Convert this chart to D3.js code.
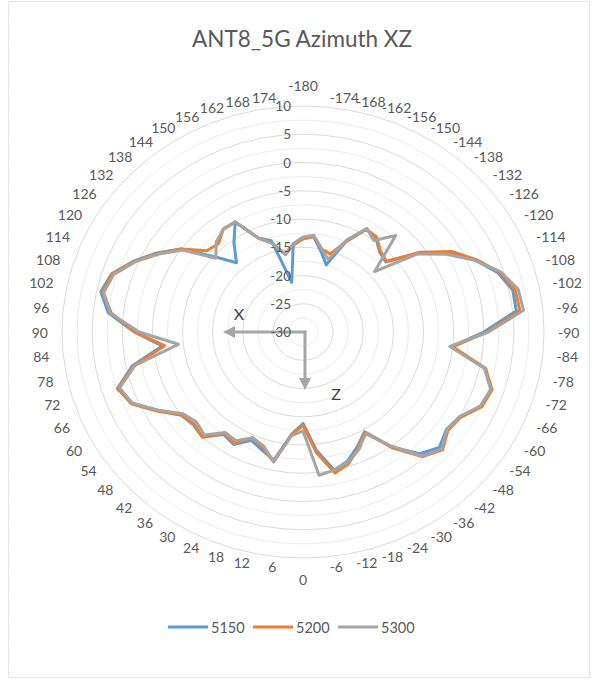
<!DOCTYPE html>
<html><head><meta charset="utf-8">
<script src="https://cdn.jsdelivr.net/npm/d3@7"></script>
<style>
html,body{margin:0;padding:0;background:#fff;}
svg{display:block;font-family:Lato,"Open Sans",sans-serif;}
</style></head>
<body><svg id="chart" width="594" height="683"></svg>
<script>
// ---------- data ----------
const title = "ANT8_5G Azimuth XZ";
const categories = [-180,-174,-168,-162,-156,-150,-144,-138,-132,-126,-120,-114,-108,-102,-96,-90,-84,-78,-72,-66,-60,-54,-48,-42,-36,-30,-24,-18,-12,-6,0,6,12,18,24,30,36,42,48,54,60,66,72,78,84,90,96,102,108,114,120,126,132,138,144,150,156,162,168,174];
const s5150 = [-13.5,-13,-15.5,-17.5,-12.5,-9,-9.4,-11,-11.5,-6.3,-1.8,1.3,4.0,5.6,5.6,0.0,-5.2,0.8,2.8,2.3,0.0,-0.6,0.5,-1.0,-4.8,-9.6,-7.8,-6.0,-5.0,-9.0,-13.8,-11.8,-6.8,-8.0,-9.0,-7.0,-7.6,-5.0,-5.5,-5.0,-2.2,1.0,2.4,-1.0,-6.5,-2.0,2.5,4.3,3.4,0.8,-2.0,-5.0,-10.0,-13.5,-10.5,-7.5,-11.8,-13.0,-21.0,-14.5];
const s5200 = [-13.5,-13,-15,-15.5,-12.5,-9,-9.2,-10.8,-11.3,-6,-1.5,1.5,4.3,6.0,6.2,0.5,-5.0,1.0,3.0,2.5,0.2,-0.3,1.2,-0.3,-4.6,-9.5,-7.5,-5.5,-4.5,-8.5,-13.5,-11.7,-6.5,-8.5,-9.5,-7.3,-7.8,-5.0,-5.7,-5.0,-2.0,1.2,2.3,-1.3,-6.9,-2.1,2.0,4.0,3.3,0.7,-2.2,-5.0,-8.5,-9.0,-7.5,-7.5,-11.8,-13.5,-16.0,-14.5];
const s5300 = [-13.2,-12.8,-15,-16.5,-12.2,-8.8,-10,-7,-14,-6.5,-2.5,1.2,4.5,6.5,6.8,0.8,-5.5,0.8,2.8,2.2,0.0,-0.5,1.0,-0.5,-5.0,-9.2,-7.2,-5.8,-5.0,-4.5,-12.5,-11.5,-6.5,-8.8,-9.5,-7.8,-8.0,-5.5,-6.2,-5.4,-2.3,1.0,2.0,-1.5,-9.2,-2.8,2.2,3.8,3.0,0.5,-2.4,-5.3,-10.5,-8.5,-7.5,-7.5,-11.8,-13.5,-16.0,-14.3];
const seriesNames = ["5150","5200","5300"];
const seriesColors = ["#5B9BD5","#ED7D31","#A5A5A5"];
const radialTicks = [-30,-25,-20,-15,-10,-5,0,5,10];
const gridValues = [-27.5,-25,-22.5,-20,-17.5,-15,-12.5,-10,-7.5,-5,-2.5,0,2.5,5,7.5,10];

// ---------- layout ----------
const cx = 303, cy = 332, Ry = 226, Rx = 241;
const textColor = "#595959";
const svg = d3.select("#chart");
svg.append("rect").attr("x",8.5).attr("y",1.5).attr("width",581).attr("height",676)
  .attr("fill","#fff").attr("stroke","#d9d9d9").attr("stroke-dasharray","2,1");

const rScale = d3.scaleLinear().domain([-30,10]).range([0,Ry]);
const aScale = d3.scaleLinear().domain([0,categories.length]).range([0,2*Math.PI]);

const g = svg.append("g").attr("transform",`translate(${cx},${cy}) scale(${Rx/Ry},1)`);

// grid
g.selectAll("circle.grid").data(gridValues).join("circle")
  .attr("class","grid").attr("r",d=>rScale(d)).attr("fill","none")
  .attr("stroke",d=> (d%5===0) ? "#dadada" : "#ededed")
  .attr("stroke-width",1).attr("vector-effect","non-scaling-stroke");

// series
const series = [s5150,s5200,s5300];
const line = d3.lineRadial()
  .angle((d,i)=>aScale(i)).radius(d=>rScale(d)).curve(d3.curveLinearClosed);
g.selectAll("path.series").data(series).join("path")
  .attr("class","series").attr("d",line).attr("fill","none")
  .attr("stroke",(d,i)=>seriesColors[i]).attr("stroke-width",3)
  .attr("stroke-linejoin","round").attr("vector-effect","non-scaling-stroke");

// value axis labels
svg.selectAll("text.vtick").data(radialTicks).join("text")
  .attr("class","vtick").attr("x",cx-12).attr("y",d=>cy-rScale(d))
  .attr("text-anchor","end").attr("dominant-baseline","central")
  .attr("font-size",13.5).attr("fill",textColor).text(d=>d);

// category labels
svg.selectAll("text.cat").data(categories).join("text")
  .attr("class","cat")
  .each(function(d,i){
    const th = aScale(i), s = Math.sin(th), c = Math.cos(th);
    const t = d3.select(this);
    if (Math.abs(s) < 0.01) {
      t.attr("x",cx).attr("y",cy - c*(Ry+21)).attr("text-anchor","middle");
    } else {
      t.attr("x",cx + s*(Rx+14)).attr("y",cy - c*(Ry+10))
       .attr("text-anchor", s>0 ? "start" : "end");
    }
  })
  .attr("dominant-baseline","central").attr("font-size",14).attr("fill",textColor)
  .text(d=>d);

// title
svg.append("text").attr("x",302).attr("y",38).attr("text-anchor","middle")
  .attr("dominant-baseline","central").attr("font-size",22.5).attr("fill",textColor).text(title);

// X / Z orientation arrows
const arrowColor = "#a6a6a6";
const ax = g.append("g").attr("transform",`scale(${Ry/Rx},1)`);
const lenX = 80, lenZ = 58, head = 12, hw = 6;
ax.append("path").attr("d",`M3,0 H${-lenX+head}`).attr("stroke",arrowColor).attr("stroke-width",3);
ax.append("path").attr("d",`M${-lenX},0 L${-lenX+head},${-hw} L${-lenX+head},${hw} Z`).attr("fill",arrowColor);
ax.append("path").attr("d",`M2,-1.5 V${lenZ-head}`).attr("stroke",arrowColor).attr("stroke-width",3);
ax.append("path").attr("d",`M2,${lenZ} L${2-hw},${lenZ-head} L${2+hw},${lenZ-head} Z`).attr("fill",arrowColor);
svg.append("text").attr("x",cx-64).attr("y",cy-19).attr("text-anchor","middle")
  .attr("dominant-baseline","central").attr("font-size",16).attr("fill","#404040").text("X");
svg.append("text").attr("x",cx+33).attr("y",cy+61).attr("text-anchor","middle")
  .attr("dominant-baseline","central").attr("font-size",16).attr("fill","#404040").text("Z");

// legend
const lg = svg.append("g");
seriesNames.forEach((n,i)=>{
  const x0 = 168 + i*85, y0 = 627;
  lg.append("line").attr("x1",x0).attr("x2",x0+40).attr("y1",y0).attr("y2",y0)
    .attr("stroke",seriesColors[i]).attr("stroke-width",3);
  lg.append("text").attr("x",x0+43).attr("y",y0).attr("dominant-baseline","central")
    .attr("font-size",14.5).attr("fill",textColor).text(n);
});
</script></body></html>
